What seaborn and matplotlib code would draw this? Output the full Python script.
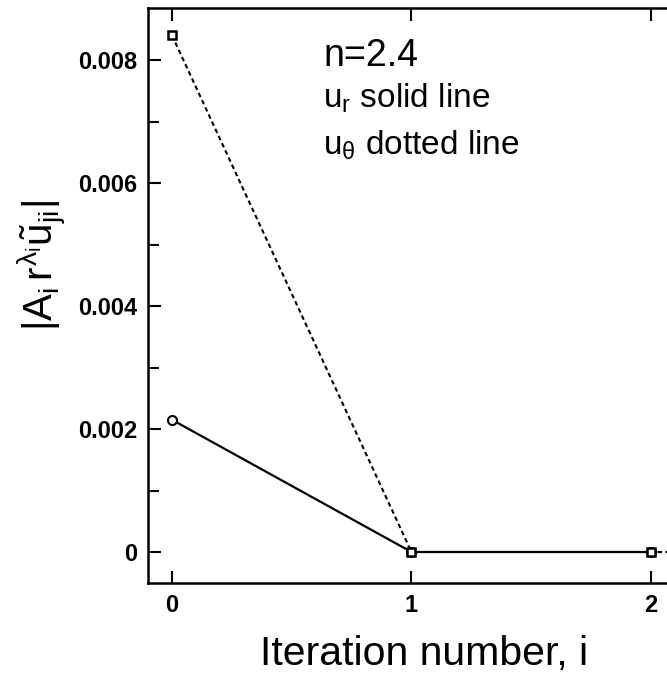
import matplotlib
matplotlib.use("Agg")
import matplotlib.pyplot as plt
from matplotlib.ticker import MultipleLocator, FixedLocator
import seaborn as sns
import pandas as pd

# Iteration data
iter_ur = [0, 1, 2]
vals_ur = [0.00215, 0.0, 0.0]
iter_ut = [0, 1, 2, 3]
vals_ut = [0.0084, 0.0, 0.0, 0.0]

x_ticks = [0, 1, 2]
y_ticks = [0, 0.002, 0.004, 0.006, 0.008]
y_tick_labels = ["0", "0.002", "0.004", "0.006", "0.008"]

sns.set_style("ticks")
plt.rcParams["font.family"] = ["Liberation Sans", "DejaVu Sans"]
plt.rcParams["mathtext.fontset"] = "custom"
plt.rcParams["mathtext.rm"] = "Liberation Sans"
plt.rcParams["mathtext.it"] = "Liberation Sans"
plt.rcParams["mathtext.bf"] = "Liberation Sans:bold"
for key in ["text.color", "axes.labelcolor", "xtick.color", "ytick.color", "axes.edgecolor"]:
    plt.rcParams[key] = "black"

fig = plt.figure(figsize=(6.67, 6.75), dpi=100)
W, H = 667, 675
left, right, top, bottom = 148, 679, 8, 583
ax = fig.add_axes([left / W, 1 - bottom / H, (right - left) / W, (bottom - top) / H])

df_r = pd.DataFrame({"i": iter_ur, "v": vals_ur})
df_t = pd.DataFrame({"i": iter_ut, "v": vals_ut})

sns.lineplot(data=df_r, x="i", y="v", ax=ax, color="black", lw=1.6,
             marker="o", markersize=6.5, markerfacecolor="white",
             markeredgecolor="black", markeredgewidth=1.5)
sns.lineplot(data=df_t, x="i", y="v", ax=ax, color="black", lw=1.5,
             linestyle=(0, (2.2, 1.6)),
             marker="s", markersize=6, markerfacecolor="white",
             markeredgecolor="black", markeredgewidth=1.8)

ax.set_xlim(-0.1002, 2.117)
ax.set_ylim(-0.000504, 0.008846)

ax.xaxis.set_major_locator(FixedLocator(x_ticks))
ax.set_xticklabels([str(t) for t in x_ticks])
ax.yaxis.set_major_locator(FixedLocator(y_ticks))
ax.set_yticklabels(y_tick_labels)
ax.yaxis.set_minor_locator(MultipleLocator(0.001))

ax.tick_params(which="both", direction="in", top=True, right=True,
               width=1.5, labelsize=17, pad=8)
ax.tick_params(which="major", length=9)
ax.tick_params(which="minor", length=8)
for lbl in ax.get_xticklabels() + ax.get_yticklabels():
    lbl.set_fontweight("bold")

for s in ax.spines.values():
    s.set_linewidth(1.8)

ax.set_xlabel("Iteration number, i", fontsize=29.5)
ax.xaxis.label.set_va("baseline")
ax.xaxis.set_label_coords(0.519, -0.1426)

ax.set_ylabel(r"$|A_i\,r^{\lambda_i}\tilde{u}_{ji}|$", fontsize=29)
ax.yaxis.label.set_va("baseline")
ax.yaxis.set_label_coords(-0.178, 0.553)

ax.text(0.6305, 0.00791, "n=2.4", fontsize=27, va="baseline", ha="left")
ax.text(0.6305, 0.00723, r"u$_\mathrm{r}$ solid line", fontsize=24, va="baseline", ha="left")
ax.text(0.6305, 0.00647, r"u$_\theta$ dotted line", fontsize=24, va="baseline", ha="left")

fig.savefig("out.png", dpi=100)
